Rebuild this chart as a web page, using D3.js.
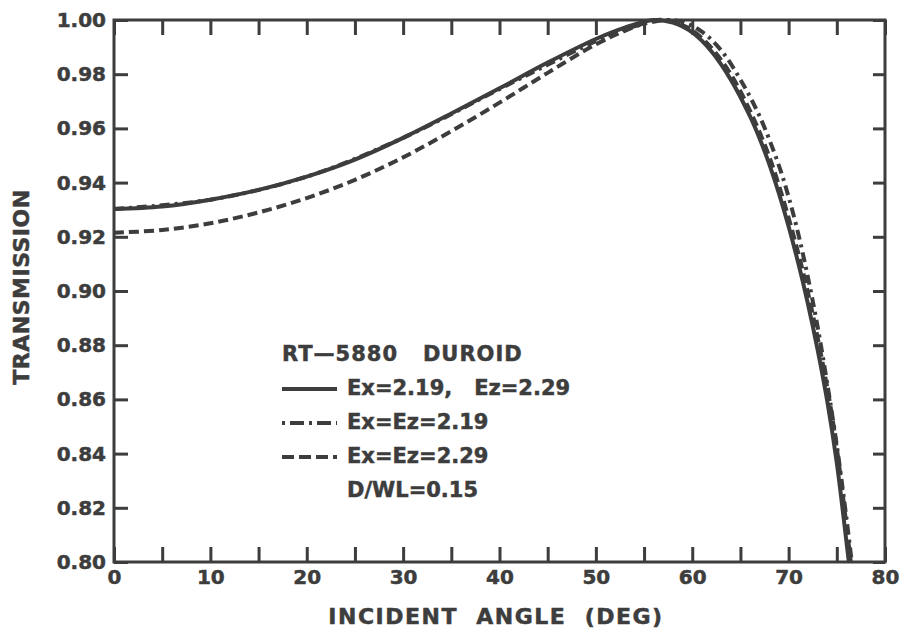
<!doctype html>
<html lang="en">
<head>
  <meta charset="UTF-8">
  <title>Transmission vs incident angle</title>
  <style type="text/css">
    body { margin: 0; background: #fff; }
    text { font-family: "DejaVu Sans", sans-serif; font-weight: bold; fill: #3d3d3d; stroke: #3d3d3d; stroke-width: 0.5px; }
  </style>
  <script src="https://cdn.jsdelivr.net/npm/d3@7/dist/d3.min.js"></script>
</head>
<body>
  <div id="container"></div>
  <script>
    var width = 904, height = 631,
      margin = { left: 114, top: 20, right: 19, bottom: 69 },
      g_width = width - margin.left - margin.right,
      g_height = height - margin.top - margin.bottom;
    var ink = '#3d3d3d';

    // Ex=2.19, Ez=2.29 (solid)
    var solidAngle = [0, 5, 10, 15, 20, 25, 30, 35, 40, 45, 50, 53, 56, 58, 60, 62, 64, 66, 67, 68, 69, 70, 71, 72, 73, 74, 75, 76, 76.25];
    var solidT = [0.9303, 0.9312, 0.9337, 0.9373, 0.9422, 0.9485, 0.9565, 0.9655, 0.9748, 0.9843, 0.9930, 0.9972, 1.000, 0.999, 0.9954, 0.9884, 0.978, 0.9644, 0.9562, 0.9467, 0.9359, 0.9238, 0.9103, 0.8953, 0.8785, 0.8595, 0.8365, 0.8075, 0.800];
    // Ex=Ez=2.19 (dash-dot)
    var dashDotAngle = [0, 10, 20, 30, 40, 45, 50, 53, 57.3, 59, 61, 63, 65, 67, 69, 70, 71, 72, 73, 74, 75, 76, 76.55];
    var dashDotT = [0.9303, 0.9337, 0.9422, 0.9565, 0.9745, 0.9835, 0.9922, 0.9966, 1.000, 0.9993, 0.9957, 0.9888, 0.978, 0.9644, 0.9462, 0.9347, 0.9211, 0.9051, 0.887, 0.866, 0.843, 0.8162, 0.800];
    // Ex=Ez=2.29 (dashed)
    var dashAngle = [0, 5, 10, 15, 20, 25, 30, 35, 40, 45, 50, 53, 56.3, 58, 60, 62, 64, 66, 68, 70, 72, 74, 75, 76, 76.45];
    var dashT = [0.9215, 0.9225, 0.925, 0.929, 0.9343, 0.941, 0.9493, 0.959, 0.9695, 0.9805, 0.991, 0.996, 1.000, 0.9993, 0.9962, 0.9897, 0.980, 0.9665, 0.9495, 0.927, 0.8995, 0.8645, 0.842, 0.8135, 0.800];

    var yTicks = [0.80, 0.82, 0.84, 0.86, 0.88, 0.90, 0.92, 0.94, 0.96, 0.98, 1.00];
    var xTicks = [0, 5, 10, 15, 20, 25, 30, 35, 40, 45, 50, 55, 60, 65, 70, 75, 80];
    var legendTitle = 'RT\u20145880   DUROID';
    var legendLabels = ['Ex=2.19,   Ez=2.29', 'Ex=Ez=2.19', 'Ex=Ez=2.29'];
    var legendNote = 'D/WL=0.15';

    var svg = d3.select('#container').append('svg').attr('width', width).attr('height', height);
    var g = svg.append('g').attr('transform', 'translate(' + margin.left + ',' + margin.top + ')');

    var x = d3.scaleLinear().domain([0, 80]).range([0, g_width]);
    var y = d3.scaleLinear().domain([0.80, 1.00]).range([g_height, 0]);

    // axes, ticks pointing inward
    var styleAxis = function (sel) {
      sel.select('.domain').remove();
      sel.selectAll('line').attr('stroke', ink).attr('stroke-width', 3);
      sel.selectAll('text').attr('font-size', 20).attr('fill', ink)
        .attr('font-family', '"DejaVu Sans", sans-serif').attr('font-weight', 'bold');
    };
    g.append('g').call(d3.axisLeft(y).tickValues(yTicks).tickSizeInner(-14).tickSizeOuter(0).tickPadding(8)
      .tickFormat(d3.format('.2f'))).call(styleAxis);
    g.append('g').attr('transform', 'translate(' + g_width + ',0)')
      .call(d3.axisRight(y).tickValues(yTicks).tickSizeInner(-12).tickSizeOuter(0).tickFormat('')).call(styleAxis);
    g.append('g').attr('transform', 'translate(0,' + g_height + ')')
      .call(d3.axisBottom(x).tickValues(xTicks).tickSizeInner(-15).tickSizeOuter(0).tickPadding(8)
        .tickFormat(function (d) { return d % 10 === 0 ? d : ''; })).call(styleAxis);
    g.append('g').call(d3.axisTop(x).tickValues(xTicks).tickSizeInner(-15).tickSizeOuter(0).tickFormat('')).call(styleAxis);

    g.append('rect').attr('width', g_width).attr('height', g_height)
      .attr('fill', 'none').attr('stroke', ink).attr('stroke-width', 3);

    var line = d3.line()
      .x(function (d) { return x(d[0]); })
      .y(function (d) { return y(d[1]); })
      .curve(d3.curveCatmullRom.alpha(0.5));

    var series = [
      { a: dashAngle, t: dashT, dash: '10,5' },
      { a: dashDotAngle, t: dashDotT, dash: '10,5,3,5' },
      { a: solidAngle, t: solidT, dash: null }
    ];
    series.forEach(function (s) {
      g.append('path')
        .attr('d', line(d3.zip(s.a, s.t)))
        .attr('fill', 'none').attr('stroke', ink).attr('stroke-width', 4)
        .attr('stroke-dasharray', s.dash);
    });

    // legend
    var lg = svg.append('g');
    lg.append('text').attr('x', 282).attr('y', 361).attr('font-size', 21)
      .attr('letter-spacing', 1).style('white-space', 'pre').text(legendTitle);
    var dashes = [null, '3,5,14,5', '12,5'];
    legendLabels.forEach(function (lab, i) {
      var by = 395 + i * 34;
      lg.append('line').attr('x1', 282).attr('x2', 337).attr('y1', by - 6).attr('y2', by - 6)
        .attr('stroke', ink).attr('stroke-width', 4).attr('stroke-dasharray', dashes[i]);
      lg.append('text').attr('x', 347).attr('y', by).attr('font-size', 21)
        .style('white-space', 'pre').text(lab);
    });
    lg.append('text').attr('x', 347).attr('y', 497).attr('font-size', 21).text(legendNote);

    // axis titles
    svg.append('text').attr('x', 496).attr('y', 624).attr('text-anchor', 'middle')
      .attr('font-size', 22).attr('letter-spacing', 1.5).style('white-space', 'pre')
      .text('INCIDENT  ANGLE  (DEG)');
    svg.append('text').attr('transform', 'translate(29,287) rotate(-90)').attr('text-anchor', 'middle')
      .attr('font-size', 22).attr('letter-spacing', 0.5).text('TRANSMISSION');
  </script>
</body>
</html>
